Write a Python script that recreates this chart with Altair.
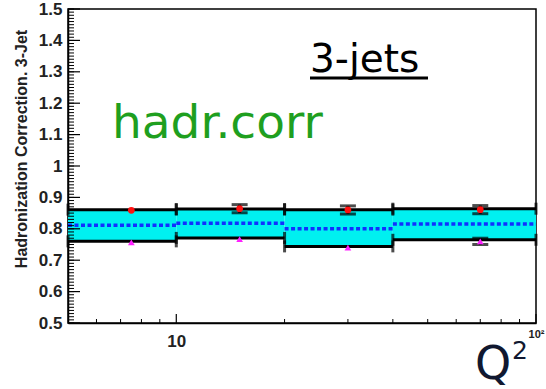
import altair as alt
import pandas as pd

# ---- data ----
bin_lo = [5, 10, 20, 40]
bin_hi = [10, 20, 40, 100]
bin_center = [7.5, 15, 30, 70]
band_top = [0.861, 0.863, 0.861, 0.864]
band_mid = [0.811, 0.818, 0.800, 0.815]
band_bot = [0.760, 0.771, 0.744, 0.765]
red_val = [0.859, 0.864, 0.860, 0.861]
red_err = [0.0, 0.013, 0.013, 0.013]
mag_val = [0.757, 0.767, 0.740, 0.760]
mag_err = [0.0, 0.0, 0.0, 0.010]

y_major = [0.5, 0.6, 0.7, 0.8, 0.9, 1.0, 1.1, 1.2, 1.3, 1.4, 1.5]
y_minor = [round(0.5 + 0.01 * i, 2) for i in range(101)]
x_major = [10, 100]
x_minor = [6, 7, 8, 9, 20, 30, 40, 50, 60, 70, 80, 90]

W, H = 468, 314

df = pd.DataFrame({
    "lo": bin_lo, "hi": bin_hi, "c": bin_center,
    "top": band_top, "mid": band_mid, "bot": band_bot,
    "red": red_val, "rerr": red_err, "mag": mag_val, "merr": mag_err,
})
df["rlo"] = df["red"] - df["rerr"]
df["rhi"] = df["red"] + df["rerr"]
df["mlo"] = df["mag"] - df["merr"]
df["mhi"] = df["mag"] + df["merr"]

xs = alt.Scale(type="log", domain=[5, 100], nice=False)
ys = alt.Scale(domain=[0.5, 1.5], nice=False, zero=False)

xax = alt.Axis(values=x_major, labelExpr="datum.value == 10 ? '10' : '10²'",
               ticks=False, grid=False, labelFont="Liberation Sans", labelFontWeight="bold",
               labelFontSize=alt.ExprRef(expr="datum.value == 10 ? 17 : 11"),
               labelColor="#222", labelPadding=alt.ExprRef(expr="datum.value == 10 ? 10 : 5"),
               domainColor="black", domainWidth=1.5, labelFlush=False, labelOverlap=False, title=None)
yax = alt.Axis(values=y_major, format="~g", ticks=False, grid=False,
               labelFont="Liberation Sans", labelFontWeight="bold", labelFontSize=17,
               labelColor="#222", labelPadding=6, domainColor="black", domainWidth=1.5,
               labelOverlap=False, labelFlush=False, title=None)


def X(f):
    return alt.X(f"{f}:Q", scale=xs, axis=xax)


def Y(f):
    return alt.Y(f"{f}:Q", scale=ys, axis=yax)


base = alt.Chart(df)

band = base.mark_rect(color="#00f0f0", opacity=1).encode(
    x=X("lo"), x2="hi:Q", y=Y("bot"), y2="top:Q")

top_line = base.mark_rule(color="black", strokeWidth=3).encode(
    x=X("lo"), x2="hi:Q", y=Y("top"))
bot_line = base.mark_rule(color="black", strokeWidth=3).encode(
    x=X("lo"), x2="hi:Q", y=Y("bot"))

edge_ticks = []
for fx in ["lo", "hi"]:
    for fy in ["top", "bot"]:
        edge_ticks.append(base.mark_tick(color="black", thickness=3, size=12, orient="vertical").encode(
            x=X(fx), y=Y(fy)))

mid_line = base.mark_rule(color="#1030ff", strokeWidth=3.5, strokeDash=[4, 2.5]).encode(
    x=X("lo"), x2="hi:Q", y=Y("mid"))

rdf = base.transform_filter("datum.rerr > 0")
red_bar = rdf.mark_rule(color="black", strokeWidth=3).encode(x=X("c"), y=Y("rlo"), y2="rhi:Q")
red_cap1 = rdf.mark_tick(color="black", thickness=3, size=16, orient="horizontal").encode(x=X("c"), y=Y("rlo"))
red_cap2 = rdf.mark_tick(color="black", thickness=3, size=16, orient="horizontal").encode(x=X("c"), y=Y("rhi"))
mdf = base.transform_filter("datum.merr > 0")
mag_bar = mdf.mark_rule(color="black", strokeWidth=3).encode(x=X("c"), y=Y("mlo"), y2="mhi:Q")
mag_cap1 = mdf.mark_tick(color="black", thickness=3, size=16, orient="horizontal").encode(x=X("c"), y=Y("mlo"))
mag_cap2 = mdf.mark_tick(color="black", thickness=3, size=16, orient="horizontal").encode(x=X("c"), y=Y("mhi"))

red_pts = base.mark_point(shape="circle", filled=True, color="#ff1010", size=45, opacity=1).encode(
    x=X("c"), y=Y("red"))
mag_pts = base.mark_point(shape="triangle-up", filled=True, color="#ff20ff", size=45, opacity=1).encode(
    x=X("c"), y=Y("mag"))

# inward ticks
ymaj = alt.Chart(pd.DataFrame({"v": y_major})).mark_rule(color="black", strokeWidth=1.2).encode(
    y=Y("v"), x=alt.value(0), x2=alt.value(12))
ymin = alt.Chart(pd.DataFrame({"v": y_minor})).mark_rule(color="black", strokeWidth=1).encode(
    y=Y("v"), x=alt.value(0), x2=alt.value(6))
xmaj = alt.Chart(pd.DataFrame({"v": x_major})).mark_rule(color="black", strokeWidth=1.2).encode(
    x=X("v"), y=alt.value(H), y2=alt.value(H - 9))
xmin = alt.Chart(pd.DataFrame({"v": x_minor})).mark_rule(color="black", strokeWidth=1).encode(
    x=X("v"), y=alt.value(H), y2=alt.value(H - 4))

# texts
ann = alt.Chart(pd.DataFrame({"t": [0]}))
hadr = ann.mark_text(text="hadr.corr", font="DejaVu Sans", fontSize=47, color="#1f9f1f",
                     align="left", baseline="alphabetic").encode(x=alt.value(44), y=alt.value(129))
jets = ann.mark_text(text="3-jets", font="DejaVu Sans", fontSize=39, color="black",
                     align="left", baseline="alphabetic").encode(x=alt.value(242), y=alt.value(63))
underline = ann.mark_rule(color="black", strokeWidth=3).encode(
    x=alt.value(242), x2=alt.value(360), y=alt.value(69))
ytitle = ann.mark_text(text="Hadronization Correction. 3-Jet", font="Liberation Sans",
                       fontWeight="bold", fontSize=16, color="#222", angle=270,
                       align="center", baseline="middle").encode(x=alt.value(-46), y=alt.value(140))
q = ann.mark_text(text="Q", font="DejaVu Sans", fontSize=46, color="#101830",
                  align="left", baseline="alphabetic").encode(x=alt.value(407), y=alt.value(370))
q2 = ann.mark_text(text="2", font="DejaVu Sans", fontSize=25, color="#101830",
                   align="left", baseline="alphabetic").encode(x=alt.value(444), y=alt.value(350))

chart = alt.layer(
    band, top_line, bot_line, *edge_ticks, mid_line,
    red_bar, red_cap1, red_cap2, mag_bar, mag_cap1, mag_cap2,
    red_pts, mag_pts, ymaj, ymin, xmaj, xmin,
    hadr, jets, underline, ytitle, q, q2,
).properties(
    width=W, height=H,
    padding={"left": 68, "top": 9, "right": 10, "bottom": 66},
    autosize=alt.AutoSizeParams(type="none"),
    background="white",
).configure_view(stroke="black", strokeWidth=1.5)

chart.save("out.html", embed_options={"renderer": "svg", "actions": False})
